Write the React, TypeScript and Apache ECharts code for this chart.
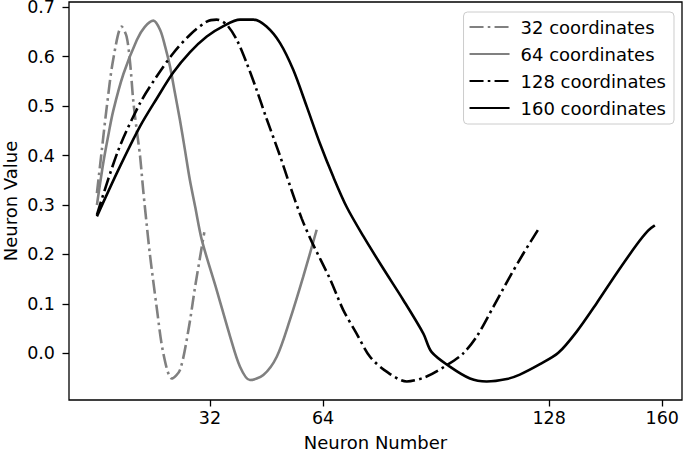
import React, { useEffect, useRef } from "react";
import * as echarts from "echarts";

// ---- data ----
const seriesNames = ["32 coordinates", "64 coordinates", "128 coordinates", "160 coordinates"];

const x32 = [0, 1.4, 2.8, 4.6, 7.0, 8.4, 9.4, 10.3, 11.3, 12.2, 13.1, 14.1, 15.0, 16.9, 18.8, 21.2, 23.5, 25.9, 27.8, 29.7, 30.4];
const y32 = [0.324, 0.412, 0.499, 0.594, 0.661, 0.641, 0.587, 0.51, 0.45, 0.4, 0.33, 0.26, 0.2, 0.094, 0.0, -0.051, -0.034, 0.047, 0.135, 0.216, 0.245];

const x64 = [0, 1.8, 3.2, 4.6, 7.5, 11.3, 13.5, 16.0, 17.9, 19.3, 20.7, 22.1, 23.5, 24.9, 26.3, 27.8, 29.7, 33.9, 37.7, 40.5, 43.3, 47.1, 50.9, 54.6, 58.4, 62.2];
const y64 = [0.30, 0.385, 0.44, 0.49, 0.565, 0.634, 0.66, 0.673, 0.654, 0.621, 0.58, 0.526, 0.472, 0.412, 0.351, 0.297, 0.229, 0.128, 0.034, -0.027, -0.054, -0.044, -0.007, 0.067, 0.155, 0.25];

const x128 = [0, 6.0, 12.2, 16.9, 21.6, 26.3, 31.1, 33.9, 36.7, 39.6, 42.4, 45.2, 48.0, 51.8, 54.6, 58.0, 60.8, 66.0, 69.7, 73.5, 77.3, 82.0, 87.7, 93.3, 99.0, 103.7, 107.5, 112.2, 116.9, 120.7, 125.4];
const y128 = [0.28, 0.41, 0.506, 0.56, 0.607, 0.644, 0.671, 0.675, 0.665, 0.634, 0.587, 0.533, 0.475, 0.4, 0.34, 0.272, 0.226, 0.15, 0.088, 0.04, -0.007, -0.037, -0.057, -0.047, -0.024, 0.0, 0.034, 0.094, 0.155, 0.202, 0.256];

const x160 = [0, 6.0, 12.2, 16.9, 21.6, 26.3, 31.1, 35.8, 40.5, 44.3, 48.0, 51.8, 55.6, 59.4, 63.1, 66.9, 70.7, 75.4, 81.0, 86.7, 92.4, 94.7, 99.9, 105.6, 110.3, 116.0, 119.7, 125.4, 130.6, 135.8, 141.4, 147.1, 152.7, 156.0, 157.9];
const y160 = [0.277, 0.37, 0.459, 0.515, 0.568, 0.609, 0.641, 0.662, 0.675, 0.675, 0.661, 0.628, 0.573, 0.499, 0.425, 0.357, 0.296, 0.237, 0.172, 0.108, 0.04, 0.003, -0.027, -0.051, -0.057, -0.052, -0.043, -0.022, 0.001, 0.044, 0.101, 0.162, 0.219, 0.248, 0.259];

const xTicks = [32, 64, 128, 160];
const yTicks = [0, 0.1, 0.2, 0.3, 0.4, 0.5, 0.6, 0.7];

const zip = (xs: number[], ys: number[]) => xs.map((x, i) => [x, ys[i]]);

const FONT = "DejaVu Sans";
const DASHDOT = [14, 4.2, 2.6, 4.2];

export default function App() {
  const ref = useRef<HTMLDivElement>(null);
  useEffect(() => {
    if (!ref.current) return;
    const chart = echarts.init(ref.current, undefined, { renderer: "svg" });
    const mk = (name: string, xs: number[], ys: number[], color: string, dash: boolean) => ({
      name,
      type: "line",
      data: zip(xs, ys),
      symbol: "none",
      showSymbol: false,
      smooth: 0.3,
      lineStyle: { color, width: 2.6, type: dash ? DASHDOT : "solid", cap: "butt" },
      itemStyle: { color },
      z: 3,
    });
    chart.setOption({
      animation: false,
      backgroundColor: "#ffffff",
      textStyle: { fontFamily: FONT },
      grid: { left: 69, right: 3, top: 2, bottom: 55, show: true, borderColor: "#000", borderWidth: 1.3, outerBoundsMode: "none" },
      legend: {
        orient: "vertical",
        right: 11,
        top: 12,
        padding: [6, 8, 7, 5],
        itemWidth: 40,
        itemHeight: 14,
        itemGap: 9,
        borderColor: "#cccccc",
        borderWidth: 1,
        borderRadius: 4,
        backgroundColor: "rgba(255,255,255,0.8)",
        itemStyle: { opacity: 0, borderWidth: 0 },
        textStyle: { fontFamily: FONT, fontSize: 18, color: "#000", lineHeight: 18, padding: [0, 0, 0, 6] },
        data: seriesNames,
      },
      xAxis: {
        type: "value",
        min: -7.9,
        max: 165.6,
        name: "Neuron Number",
        nameLocation: "middle",
        nameGap: 33,
        nameMoveOverlap: false,
        nameTextStyle: { fontFamily: FONT, fontSize: 18, color: "#000" },
        splitLine: { show: false },
        axisLine: { show: false, onZero: false },
        axisTick: { show: true, length: 6.5, lineStyle: { color: "#000", width: 1.3 }, customValues: xTicks },
        axisLabel: { fontFamily: FONT, fontSize: 17.5, color: "#000", margin: 9, customValues: xTicks },
      },
      yAxis: {
        type: "value",
        min: -0.0944,
        max: 0.7107,
        name: "Neuron Value",
        nameLocation: "middle",
        nameGap: 50,
        nameMoveOverlap: false,
        nameTextStyle: { fontFamily: FONT, fontSize: 18, color: "#000" },
        splitLine: { show: false },
        axisLine: { show: false, onZero: false },
        axisTick: { show: true, length: 6.5, lineStyle: { color: "#000", width: 1.3 }, customValues: yTicks },
        axisLabel: {
          fontFamily: FONT,
          fontSize: 17.5,
          color: "#000",
          margin: 14,
          customValues: yTicks,
          formatter: (v: number) => v.toFixed(1),
        },
      },
      series: [
        mk(seriesNames[0], x32, y32, "#808080", true),
        mk(seriesNames[1], x64, y64, "#808080", false),
        mk(seriesNames[2], x128, y128, "#000000", true),
        mk(seriesNames[3], x160, y160, "#000000", false),
      ],
    });
    return () => chart.dispose();
  }, []);
  return <div ref={ref} style={{ position: "fixed", left: 0, top: 0, width: 685, height: 455 }} />;
}
